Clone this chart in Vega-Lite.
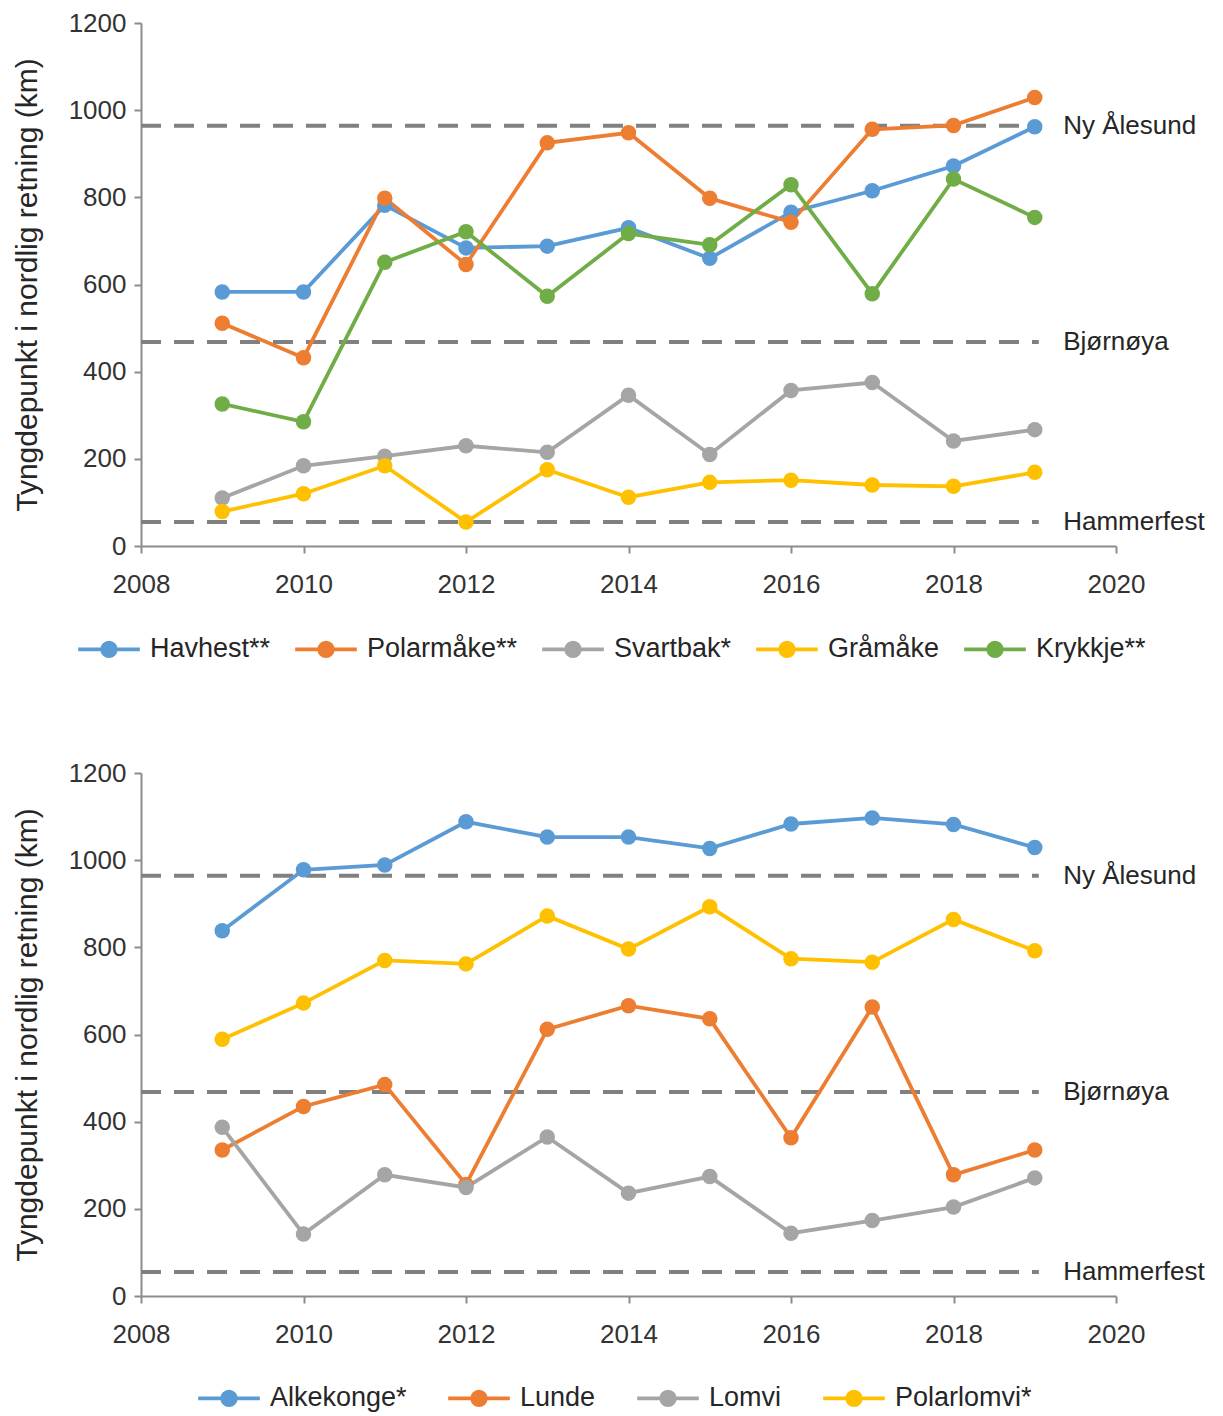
{
  "$schema": "https://vega.github.io/schema/vega-lite/v6.json",
  "padding": {"left": 12, "top": 10, "right": 5, "bottom": 5},
  "background": "white",
  "config": {
    "font": "Liberation Sans",
    "view": {"stroke": null},
    "axis": {
      "grid": false,
      "domainColor": "#8c8c8c",
      "domainWidth": 2,
      "tickColor": "#8c8c8c",
      "tickWidth": 2,
      "tickSize": 7,
      "labelFontSize": 26,
      "labelColor": "#333333",
      "labelFont": "Liberation Sans",
      "labelFlush": false,
      "titleFont": "Liberation Sans",
      "titleFontSize": 30,
      "titleFontWeight": "normal",
      "titleColor": "#262626"
    },
    "legend": {
      "orient": "none",
      "direction": "horizontal",
      "title": null,
      "labelFontSize": 27,
      "labelColor": "#262626",
      "labelFont": "Liberation Sans",
      "symbolOffset": 0,
      "labelOffset": 8
    }
  },
  "datasets": {
    "top": [
      {"year": 2009, "species": "Havhest**", "km": 583},
      {"year": 2010, "species": "Havhest**", "km": 583},
      {"year": 2011, "species": "Havhest**", "km": 782},
      {"year": 2012, "species": "Havhest**", "km": 684},
      {"year": 2013, "species": "Havhest**", "km": 688},
      {"year": 2014, "species": "Havhest**", "km": 730},
      {"year": 2015, "species": "Havhest**", "km": 660},
      {"year": 2016, "species": "Havhest**", "km": 766},
      {"year": 2017, "species": "Havhest**", "km": 815},
      {"year": 2018, "species": "Havhest**", "km": 872},
      {"year": 2019, "species": "Havhest**", "km": 962},
      {"year": 2009, "species": "Polarmåke**", "km": 511},
      {"year": 2010, "species": "Polarmåke**", "km": 432},
      {"year": 2011, "species": "Polarmåke**", "km": 798},
      {"year": 2012, "species": "Polarmåke**", "km": 646},
      {"year": 2013, "species": "Polarmåke**", "km": 925},
      {"year": 2014, "species": "Polarmåke**", "km": 948},
      {"year": 2015, "species": "Polarmåke**", "km": 798},
      {"year": 2016, "species": "Polarmåke**", "km": 743},
      {"year": 2017, "species": "Polarmåke**", "km": 956},
      {"year": 2018, "species": "Polarmåke**", "km": 965},
      {"year": 2019, "species": "Polarmåke**", "km": 1029},
      {"year": 2009, "species": "Svartbak*", "km": 110},
      {"year": 2010, "species": "Svartbak*", "km": 184},
      {"year": 2011, "species": "Svartbak*", "km": 206},
      {"year": 2012, "species": "Svartbak*", "km": 230},
      {"year": 2013, "species": "Svartbak*", "km": 215},
      {"year": 2014, "species": "Svartbak*", "km": 346},
      {"year": 2015, "species": "Svartbak*", "km": 210},
      {"year": 2016, "species": "Svartbak*", "km": 357},
      {"year": 2017, "species": "Svartbak*", "km": 375},
      {"year": 2018, "species": "Svartbak*", "km": 241},
      {"year": 2019, "species": "Svartbak*", "km": 267},
      {"year": 2009, "species": "Gråmåke", "km": 79},
      {"year": 2010, "species": "Gråmåke", "km": 120},
      {"year": 2011, "species": "Gråmåke", "km": 184},
      {"year": 2012, "species": "Gråmåke", "km": 55},
      {"year": 2013, "species": "Gråmåke", "km": 175},
      {"year": 2014, "species": "Gråmåke", "km": 112},
      {"year": 2015, "species": "Gråmåke", "km": 146},
      {"year": 2016, "species": "Gråmåke", "km": 151},
      {"year": 2017, "species": "Gråmåke", "km": 140},
      {"year": 2018, "species": "Gråmåke", "km": 137},
      {"year": 2019, "species": "Gråmåke", "km": 169},
      {"year": 2009, "species": "Krykkje**", "km": 326},
      {"year": 2010, "species": "Krykkje**", "km": 285},
      {"year": 2011, "species": "Krykkje**", "km": 651},
      {"year": 2012, "species": "Krykkje**", "km": 721},
      {"year": 2013, "species": "Krykkje**", "km": 573},
      {"year": 2014, "species": "Krykkje**", "km": 717},
      {"year": 2015, "species": "Krykkje**", "km": 691},
      {"year": 2016, "species": "Krykkje**", "km": 829},
      {"year": 2017, "species": "Krykkje**", "km": 579},
      {"year": 2018, "species": "Krykkje**", "km": 842},
      {"year": 2019, "species": "Krykkje**", "km": 754}
    ],
    "bottom": [
      {"year": 2009, "species": "Alkekonge*", "km": 838},
      {"year": 2010, "species": "Alkekonge*", "km": 978},
      {"year": 2011, "species": "Alkekonge*", "km": 989},
      {"year": 2012, "species": "Alkekonge*", "km": 1088},
      {"year": 2013, "species": "Alkekonge*", "km": 1053},
      {"year": 2014, "species": "Alkekonge*", "km": 1053},
      {"year": 2015, "species": "Alkekonge*", "km": 1027},
      {"year": 2016, "species": "Alkekonge*", "km": 1083},
      {"year": 2017, "species": "Alkekonge*", "km": 1097},
      {"year": 2018, "species": "Alkekonge*", "km": 1082},
      {"year": 2019, "species": "Alkekonge*", "km": 1029},
      {"year": 2009, "species": "Lunde", "km": 335},
      {"year": 2010, "species": "Lunde", "km": 435},
      {"year": 2011, "species": "Lunde", "km": 485},
      {"year": 2012, "species": "Lunde", "km": 256},
      {"year": 2013, "species": "Lunde", "km": 612},
      {"year": 2014, "species": "Lunde", "km": 666},
      {"year": 2015, "species": "Lunde", "km": 636},
      {"year": 2016, "species": "Lunde", "km": 363},
      {"year": 2017, "species": "Lunde", "km": 663},
      {"year": 2018, "species": "Lunde", "km": 278},
      {"year": 2019, "species": "Lunde", "km": 335},
      {"year": 2009, "species": "Lomvi", "km": 387},
      {"year": 2010, "species": "Lomvi", "km": 142},
      {"year": 2011, "species": "Lomvi", "km": 278},
      {"year": 2012, "species": "Lomvi", "km": 249},
      {"year": 2013, "species": "Lomvi", "km": 365},
      {"year": 2014, "species": "Lomvi", "km": 236},
      {"year": 2015, "species": "Lomvi", "km": 274},
      {"year": 2016, "species": "Lomvi", "km": 144},
      {"year": 2017, "species": "Lomvi", "km": 173},
      {"year": 2018, "species": "Lomvi", "km": 204},
      {"year": 2019, "species": "Lomvi", "km": 271},
      {"year": 2009, "species": "Polarlomvi*", "km": 589},
      {"year": 2010, "species": "Polarlomvi*", "km": 672},
      {"year": 2011, "species": "Polarlomvi*", "km": 770},
      {"year": 2012, "species": "Polarlomvi*", "km": 762},
      {"year": 2013, "species": "Polarlomvi*", "km": 872},
      {"year": 2014, "species": "Polarlomvi*", "km": 796},
      {"year": 2015, "species": "Polarlomvi*", "km": 893},
      {"year": 2016, "species": "Polarlomvi*", "km": 774},
      {"year": 2017, "species": "Polarlomvi*", "km": 766},
      {"year": 2018, "species": "Polarlomvi*", "km": 864},
      {"year": 2019, "species": "Polarlomvi*", "km": 792}
    ],
    "refs": [
      {"place": "Ny Ålesund", "km": 964},
      {"place": "Bjørnøya", "km": 468},
      {"place": "Hammerfest", "km": 55}
    ]
  },
  "spacing": 96,
  "resolve": {"scale": {"color": "independent"}, "legend": {"color": "independent"}},
  "vconcat": [
    {
      "width": 975,
      "height": 523,
      "layer": [
        {
          "data": {"name": "refs"},
          "mark": {"type": "rule", "strokeDash": [20, 13], "strokeWidth": 4, "color": "#808080"},
          "encoding": {
            "y": {"field": "km", "type": "quantitative"},
            "x": {"datum": 2008},
            "x2": {"datum": 2019.05}
          }
        },
        {
          "data": {"name": "refs"},
          "mark": {"type": "text", "align": "left", "baseline": "middle", "fontSize": 26, "color": "#262626"},
          "encoding": {
            "y": {"field": "km", "type": "quantitative"},
            "x": {"datum": 2019.35},
            "text": {"field": "place"}
          }
        },
        {
          "data": {"name": "top"},
          "mark": {"type": "line", "strokeWidth": 3.8},
          "encoding": {
            "x": {"field": "year", "type": "quantitative", "scale": {"domain": [2008, 2020], "nice": false, "zero": false}, "axis": {"values": [2008, 2010, 2012, 2014, 2016, 2018, 2020], "format": "d", "title": null, "labelPadding": 18}},
            "y": {"field": "km", "type": "quantitative", "scale": {"domain": [0, 1200], "nice": false}, "axis": {"values": [0, 200, 400, 600, 800, 1000, 1200], "format": "d", "title": "Tyngdepunkt i nordlig retning (km)", "labelPadding": 8, "titlePadding": 26}},
            "color": {"field": "species", "type": "nominal", "scale": {"domain": ["Havhest**", "Polarmåke**", "Svartbak*", "Gråmåke", "Krykkje**"], "range": ["#5B9BD5", "#ED7D31", "#A5A5A5", "#FFC000", "#70AD47"]}, "legend": {"symbolType": "M-1,0H-0.22M0.22,0H1M-0.22,0A0.22,0.22 0 1,1 0.22,0A0.22,0.22 0 1,1 -0.22,0Z", "symbolSize": 3800, "symbolStrokeWidth": 3.8, "legendX": -65, "legendY": 593, "columnPadding": 16}}
          }
        },
        {
          "data": {"name": "top"},
          "mark": {"type": "circle", "size": 240, "opacity": 1},
          "encoding": {
            "x": {"field": "year", "type": "quantitative"},
            "y": {"field": "km", "type": "quantitative"},
            "color": {"field": "species", "type": "nominal", "legend": {"symbolType": "M-1,0H-0.22M0.22,0H1M-0.22,0A0.22,0.22 0 1,1 0.22,0A0.22,0.22 0 1,1 -0.22,0Z", "symbolSize": 3800, "symbolStrokeWidth": 3.8, "legendX": -65, "legendY": 593, "columnPadding": 16}}
          }
        }
      ]
    },
    {
      "width": 975,
      "height": 523,
      "layer": [
        {
          "data": {"name": "refs"},
          "mark": {"type": "rule", "strokeDash": [20, 13], "strokeWidth": 4, "color": "#808080"},
          "encoding": {
            "y": {"field": "km", "type": "quantitative"},
            "x": {"datum": 2008},
            "x2": {"datum": 2019.05}
          }
        },
        {
          "data": {"name": "refs"},
          "mark": {"type": "text", "align": "left", "baseline": "middle", "fontSize": 26, "color": "#262626"},
          "encoding": {
            "y": {"field": "km", "type": "quantitative"},
            "x": {"datum": 2019.35},
            "text": {"field": "place"}
          }
        },
        {
          "data": {"name": "bottom"},
          "mark": {"type": "line", "strokeWidth": 3.8},
          "encoding": {
            "x": {"field": "year", "type": "quantitative", "scale": {"domain": [2008, 2020], "nice": false, "zero": false}, "axis": {"values": [2008, 2010, 2012, 2014, 2016, 2018, 2020], "format": "d", "title": null, "labelPadding": 18}},
            "y": {"field": "km", "type": "quantitative", "scale": {"domain": [0, 1200], "nice": false}, "axis": {"values": [0, 200, 400, 600, 800, 1000, 1200], "format": "d", "title": "Tyngdepunkt i nordlig retning (km)", "labelPadding": 8, "titlePadding": 26}},
            "color": {"field": "species", "type": "nominal", "scale": {"domain": ["Alkekonge*", "Lunde", "Lomvi", "Polarlomvi*"], "range": ["#5B9BD5", "#ED7D31", "#A5A5A5", "#FFC000"]}, "legend": {"symbolType": "M-1,0H-0.22M0.22,0H1M-0.22,0A0.22,0.22 0 1,1 0.22,0A0.22,0.22 0 1,1 -0.22,0Z", "symbolSize": 3800, "symbolStrokeWidth": 3.8, "legendX": 55, "legendY": 592, "columnPadding": 33}}
          }
        },
        {
          "data": {"name": "bottom"},
          "mark": {"type": "circle", "size": 240, "opacity": 1},
          "encoding": {
            "x": {"field": "year", "type": "quantitative"},
            "y": {"field": "km", "type": "quantitative"},
            "color": {"field": "species", "type": "nominal", "legend": {"symbolType": "M-1,0H-0.22M0.22,0H1M-0.22,0A0.22,0.22 0 1,1 0.22,0A0.22,0.22 0 1,1 -0.22,0Z", "symbolSize": 3800, "symbolStrokeWidth": 3.8, "legendX": 55, "legendY": 592, "columnPadding": 33}}
          }
        }
      ]
    }
  ]
}
